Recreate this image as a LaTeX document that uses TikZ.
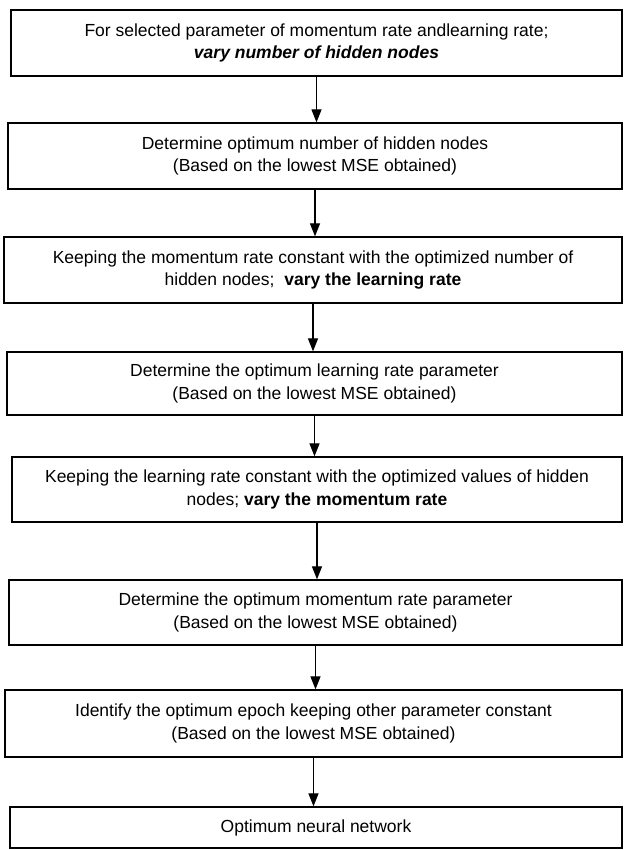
\documentclass[tikz,border=0pt]{standalone}
\usepackage{fontspec}
\setmainfont{Liberation Sans}
\usetikzlibrary{shapes, arrows.meta, positioning}
\tikzstyle{etapa} = [draw=black, line width=1.3pt, rectangle, align=center, inner sep=0pt, font=\fontsize{17.5}{22.5}\selectfont]
\tikzstyle{flecha} = [-{Triangle[width=10pt,length=13pt]}, line width=1.2pt]

\begin{document}
\begin{tikzpicture}[x=1pt,y=-1pt]
	\useasboundingbox (0,0) rectangle (625,850);
	\node[etapa, minimum width=611pt, minimum height=66pt] (varyhidden) at (316.5,43) {%
		For selected parameter of momentum rate andlearning rate;\\
		\textbf{\itshape vary number of hidden nodes}};
	\node[etapa, minimum width=614pt, minimum height=66pt] (opthidden) at (315,156) {%
		Determine optimum number of hidden nodes\\
		(Based on the lowest MSE obtained)};
	\node[etapa, minimum width=618pt, minimum height=66pt] (varylr) at (313,270) {%
		Keeping the momentum rate constant with the optimized number of\\
		hidden nodes;\ \ \textbf{vary the learning rate}};
	\node[etapa, minimum width=615pt, minimum height=63pt] (optlr) at (314.5,383.5) {%
		Determine the optimum learning rate parameter\\
		(Based on the lowest MSE obtained)};
	\node[etapa, minimum width=610pt, minimum height=65pt] (varymom) at (317,489.5) {%
		Keeping the learning rate constant with the optimized values of hidden\\
		nodes; \textbf{vary the momentum rate}};
	\node[etapa, minimum width=613pt, minimum height=65pt] (optmom) at (315.5,612.5) {%
		Determine the optimum momentum rate parameter\\
		(Based on the lowest MSE obtained)};
	\node[etapa, minimum width=617pt, minimum height=67pt] (optepoch) at (313.5,723.5) {%
		Identify the optimum epoch keeping other parameter constant\\
		(Based on the lowest MSE obtained)};
	\node[etapa, minimum width=612pt, minimum height=41pt] (optnet) at (316,827.5) {%
		Optimum neural network};
	% flechas entre etapas
	\draw[flecha] (varyhidden.south) -- (varyhidden.south |- opthidden.north);
	\draw[flecha] (opthidden.south) -- (opthidden.south |- varylr.north);
	\draw[flecha] (varylr.south) -- (varylr.south |- optlr.north);
	\draw[flecha] (optlr.south) -- (optlr.south |- varymom.north);
	\draw[flecha] (varymom.south) -- (varymom.south |- optmom.north);
	\draw[flecha] (optmom.south) -- (optmom.south |- optepoch.north);
	\draw[flecha] (optepoch.south) -- (optepoch.south |- optnet.north);
\end{tikzpicture}
\end{document}
